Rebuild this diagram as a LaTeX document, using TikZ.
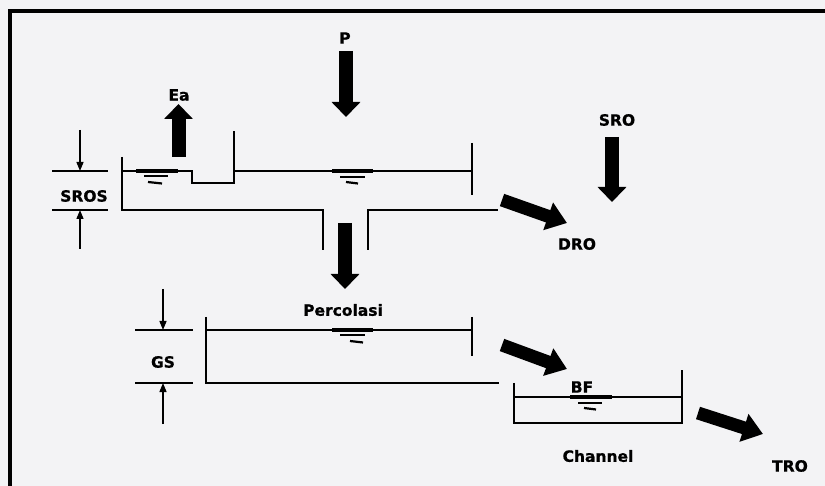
\documentclass[tikz,border=0pt]{standalone}
\usepackage{fontspec}
\setmainfont{DejaVu Sans}[BoldFeatures={FakeBold=0.8}]
\usetikzlibrary{arrows.meta}
\definecolor{bgcol}{RGB}{243,243,245}
\tikzset{
  lbl/.style={font=\bfseries\fontsize{15.5}{17}\selectfont, inner sep=0pt},
  blockarrow/.style={line width=14, -{Triangle[width=28,length=15]}},
  diagarrow/.style={line width=13, -{Triangle[width=28,length=20]}},
  dimarrow/.style={line width=1.3, -{Triangle[width=7,length=9]}},
  thinline/.style={line width=1.5},
  wall/.style={line width=2.8},
  waterbar/.style={line width=3.5},
}
\begin{document}
\begin{tikzpicture}[x=1pt,y=-1pt]
\fill[bgcol] (0,0) rectangle (825,486);
\useasboundingbox (0,0) rectangle (825,486);
% frame
\draw[line width=4] (9.5,490) -- (9.5,11) -- (830,11);

% ---------- labels ----------
\node[lbl] (ea) at (179,95) {Ea};
\node[lbl] (p) at (345,38) {P};
\node[lbl] (sro) at (617,120) {SRO};
\node[lbl] (dro) at (577,244) {DRO};
\node[lbl] (sros) at (84,196) {SROS};
\node[lbl] (perc) at (343,310) {Percolasi};
\node[lbl] (gs) at (163,362) {GS};
\node[lbl] (bf) at (582,387) {BF};
\node[lbl] (chan) at (598,456) {Channel};
\node[lbl] (tro) at (790,466) {TRO};

% ---------- arrow end coordinates ----------
\coordinate (eaS) at (178.5,157);
\coordinate (eaE) at (178.5,104);
\coordinate (pS) at (346,51);
\coordinate (pE) at (346,117);
\coordinate (sroS) at (612,137);
\coordinate (sroE) at (612,202);
\coordinate (percS) at (345,223);
\coordinate (percE) at (345,289);
\coordinate (droS) at (502,200);
\coordinate (droE) at (567,223);
\coordinate (bfS) at (502,345);
\coordinate (bfE) at (567,369);
\coordinate (troS) at (698,413);
\coordinate (troE) at (763,434);

\draw[blockarrow] (eaS) -- (eaE);
\draw[blockarrow] (pS) -- (pE);
\draw[blockarrow] (sroS) -- (sroE);
\draw[blockarrow] (percS) -- (percE);
\draw[diagarrow] (droS) -- (droE);
\draw[diagarrow] (bfS) -- (bfE);
\draw[diagarrow] (troS) -- (troE);

% ---------- upper store ----------
\draw[wall] (122,157) -- (122,210) -- (323,210) -- (323,250);
\draw[wall] (368,250) -- (368,210) -- (498,210);
\draw[thinline] (122,171) -- (192,171) -- (192,183) -- (234,183) -- (234,131);
\draw[thinline] (234,171) -- (472,171);
\draw[thinline] (472,143) -- (472,195);
% water symbols
\draw[waterbar] (136,171) -- (178,171);
\draw[line width=2] (144,176.5) -- (168,176.5);
\draw[line width=2.2] (148,182) -- (162,183.5);
\draw[waterbar] (332,171) -- (373,171);
\draw[line width=2] (340,177) -- (365,177);
\draw[line width=2.2] (346,182) -- (358,183.5);

% SROS dimension
\draw[thinline] (52,171) -- (108,171);
\draw[thinline] (52,210) -- (108,210);
\coordinate (srosT) at (80,130);
\coordinate (srosTE) at (80,171);
\coordinate (srosB) at (80,249);
\coordinate (srosBE) at (80,210);
\draw[dimarrow] (srosT) -- (srosTE);
\draw[dimarrow] (srosB) -- (srosBE);

% ---------- groundwater store ----------
\draw[wall] (206,317) -- (206,383) -- (499,383);
\draw[thinline] (206,330) -- (472,330);
\draw[thinline] (472,317) -- (472,356);
\draw[waterbar] (332,330) -- (373,330);
\draw[line width=2] (340,335.5) -- (365,335.5);
\draw[line width=2.2] (350,341) -- (363,342.5);

% GS dimension
\draw[thinline] (135,330) -- (193,330);
\draw[thinline] (135,383) -- (193,383);
\coordinate (gsT) at (163,289);
\coordinate (gsTE) at (163,330);
\coordinate (gsB) at (163,424);
\coordinate (gsBE) at (163,383);
\draw[dimarrow] (gsT) -- (gsTE);
\draw[dimarrow] (gsB) -- (gsBE);

% ---------- channel ----------
\draw[wall] (514,383) -- (514,423) -- (682,423) -- (682,370);
\draw[thinline] (514,397) -- (682,397);
\draw[waterbar] (570,397) -- (612,397);
\draw[line width=2] (578,403) -- (602,403);
\draw[line width=2.2] (584,408) -- (596,409.5);
\end{tikzpicture}
\end{document}
